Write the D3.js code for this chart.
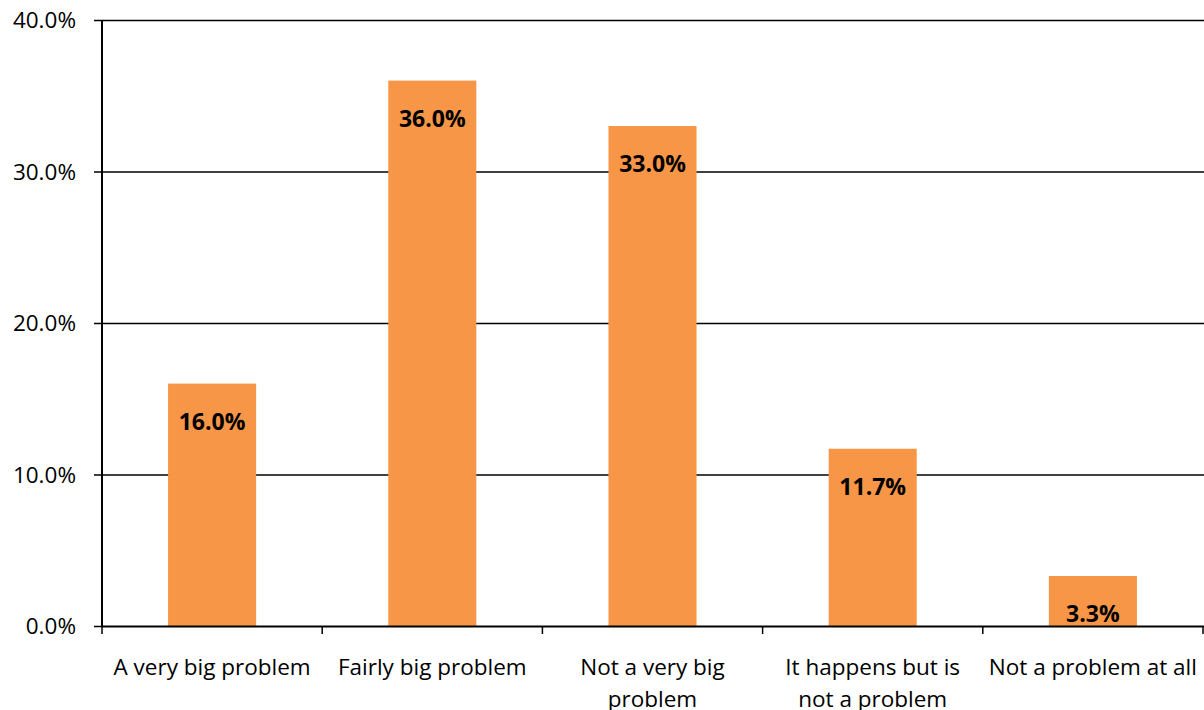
<!DOCTYPE html>
<html><head><meta charset="utf-8">
<script src="https://cdn.jsdelivr.net/npm/d3@7"></script>
<style>body{margin:0;background:#fff}svg{display:block}text{font-family:"Open Sans",sans-serif}</style>
</head><body><svg id="c" width="1204" height="710"></svg>
<script>
const categories = [["A very big problem"],["Fairly big problem"],["Not a very big","problem"],["It happens but is","not a problem"],["Not a problem at all"]];
const values = [16.0, 36.0, 33.0, 11.7, 3.3];
const yTicks = [0, 10, 20, 30, 40];

const svg = d3.select("#c");
const m = {l:102, r:1203, t:20, b:626};
const x = d3.scaleBand().domain(d3.range(values.length)).range([m.l, m.r]).paddingInner(0.6).paddingOuter(0.3);
const xb = d3.scaleBand().domain(d3.range(values.length)).range([m.l, m.r]);
const y = d3.scaleLinear().domain([0, 40]).range([m.b, m.t]);

// gridlines
svg.append("g").selectAll("line").data(yTicks.slice(1)).join("line")
  .attr("x1", m.l).attr("x2", 1204).attr("y1", d=>y(d)+0.5).attr("y2", d=>y(d)+0.5)
  .attr("stroke", "#000").attr("stroke-width", 1.5);

// bars
svg.append("g").selectAll("rect").data(values).join("rect")
  .attr("x", (d,i)=>x(i)).attr("width", x.bandwidth())
  .attr("y", d=>y(d)).attr("height", d=>m.b - y(d)).attr("fill", "#F79646");

// y axis
const ya = svg.append("g").attr("transform", `translate(${m.l},0)`)
  .call(d3.axisLeft(y).tickValues(yTicks).tickSize(8).tickPadding(18).tickFormat(d=>d.toFixed(1)+"%"));
ya.select(".domain").attr("stroke-width", 2).attr("d", `M0,${m.t}V${m.b}`);
ya.selectAll(".tick line").attr("stroke-width", 1.5);
ya.selectAll("text").style("font-size", "22.5px").attr("fill", "#000").attr("dy", "0.35em").style("font-family", "'Open Sans',sans-serif");

// x axis
const xa = svg.append("g").attr("transform", `translate(0,${m.b})`);
xa.append("line").attr("x1", m.l).attr("x2", 1204).attr("y1", 0.5).attr("y2", 0.5).attr("stroke", "#000").attr("stroke-width", 2);
const bounds = d3.range(values.length+1).map(i => m.l + i*xb.step());
xa.selectAll("line.t").data(bounds).join("line").attr("class","t")
  .attr("x1", d=>Math.min(d,1203)).attr("x2", d=>Math.min(d,1203)).attr("y1", 0).attr("y2", 8)
  .attr("stroke", "#000").attr("stroke-width", 1.5);
xa.selectAll("text.c").data(categories).join("text").attr("class","c")
  .attr("text-anchor", "middle").style("font-size", "22.5px")
  .each(function(lines, i){
    const t = d3.select(this);
    lines.forEach((l, j) => t.append("tspan").attr("x", xb(i)+xb.bandwidth()/2).attr("y", 49 + j*32).text(l));
  });

// data labels
svg.append("g").selectAll("text").data(values).join("text")
  .attr("x", (d,i)=>x(i)+x.bandwidth()/2).attr("y", d=>y(d)+46)
  .attr("text-anchor", "middle").style("font-size", "23px").style("font-weight", "bold")
  .text(d=>d.toFixed(1)+"%");
</script></body></html>
